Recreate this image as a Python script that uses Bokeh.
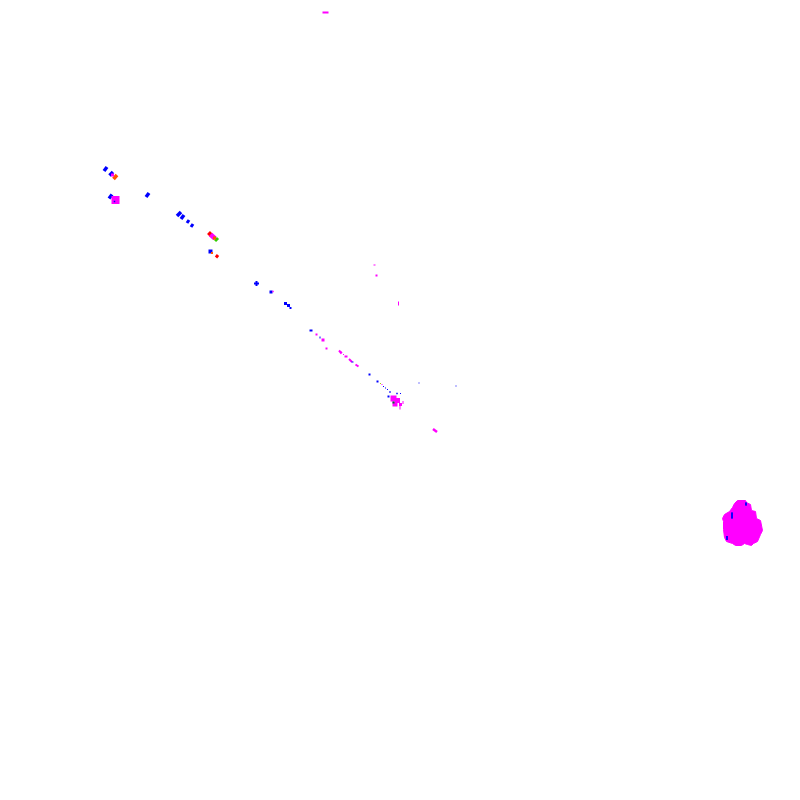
from bokeh.embed import file_html
from bokeh.models import Range1d
from bokeh.plotting import figure
from bokeh.resources import INLINE

BLUE = '#0000ff'
MAGENTA = '#ff00ff'
RED = '#ff0000'
ORANGE = '#ff5500'
GREEN = '#33cc00'
LIME = '#aacc00'
DARK = '#006633'

# short slanted strokes
dash_x0 = [103.5, 109.0, 113.0, 108.5, 145.5, 176.5, 180.5, 186.5, 190.5, 214.5, 215.5,
           338.5, 340.0, 348.5, 355.0, 432.5, 208.0, 210.0]
dash_y0 = [170.5, 175.0, 178.5, 198.0, 196.5, 215.5, 218.5, 222.5, 226.5, 240.5, 257.0,
           350.0, 351.0, 358.5, 364.0, 428.5, 232.0, 234.0]
dash_x1 = [106.5, 112.5, 116.5, 111.5, 148.5, 180.5, 183.5, 188.5, 192.5, 217.5, 217.5,
           341.0, 341.5, 351.5, 358.0, 436.5, 211.0, 214.5]
dash_y1 = [166.5, 171.5, 174.5, 194.0, 192.5, 211.5, 214.5, 219.5, 223.5, 237.5, 254.5,
           353.0, 352.5, 361.5, 366.0, 431.5, 235.0, 238.0]
dash_color = [BLUE, BLUE, ORANGE, BLUE, BLUE, BLUE, BLUE, BLUE, BLUE, GREEN, RED,
              MAGENTA, MAGENTA, MAGENTA, MAGENTA, MAGENTA, RED, MAGENTA]
dash_width = [3.5, 3.5, 3.5, 3.5, 3.5, 3.5, 3.5, 3, 3, 3, 3, 2, 1.5, 2, 2, 2.5, 4, 5]

# little blocks
dot_x = [112.0, 115.0, 114.0, 214.0, 210.0, 211.5, 256.0, 270.5, 272.5,
         285.0, 288.0, 290.0, 310.5, 316.0, 319.5, 322.5, 326.0, 374.0, 376.0, 398.0,
         343.0, 345.5, 352.0, 369.0, 377.0, 380.0, 381.5, 383.0, 385.0, 387.0, 389.5,
         418.5, 455.5, 388.0, 396.5,
         400.0, 393.0, 397.0, 394.5, 400.0, 393.0, 399.5, 402.5, 325.0, 731.5, 745.5,
         726.5, 256.0]
dot_y = [174.5, 199.5, 201.0, 237.5, 251.0, 252.5, 283.0, 291.5, 291.0,
         303.0, 305.0, 307.5, 330.0, 334.0, 337.0, 339.5, 348.0, 264.5, 275.0, 303.0,
         354.0, 356.0, 361.5, 374.0, 381.0, 383.0, 384.0, 386.0, 387.5, 389.0, 391.5,
         382.5, 385.5, 396.0, 393.0,
         393.0, 398.0, 400.0, 403.5, 404.0, 402.0, 407.0, 402.0, 12.0, 515.0, 503.5,
         537.5, 283.0]
dot_w = [3, 8, 1.5, 3, 4, 2, 5, 3, 1.5, 3, 3, 2, 3, 2, 1, 3, 2, 2, 2, 1,
         1, 3, 2, 2, 2, 1, 1, 1, 1, 1, 1.5, 1, 1, 2, 1.5,
         1, 6, 5, 5, 3, 2, 1, 1, 6, 1.5, 1.5, 1.5, 2]
dot_h = [3, 8, 1.5, 3, 4, 2, 2, 3, 1.5, 3, 3, 2, 2, 2, 2, 3, 2, 1, 2, 4,
         1, 2, 1, 2, 2, 1, 1, 1, 1, 1, 1.5, 1, 1, 2, 1.5,
         1, 6, 5, 5, 3, 2, 4, 3, 2, 6, 3, 4, 5]
dot_color = [MAGENTA, MAGENTA, BLUE, ORANGE, BLUE, ORANGE, BLUE, BLUE, MAGENTA,
             BLUE, BLUE, BLUE, BLUE, MAGENTA, BLUE, MAGENTA, MAGENTA, MAGENTA, MAGENTA, MAGENTA,
             MAGENTA, MAGENTA, BLUE, BLUE, BLUE, LIME, MAGENTA, BLUE, BLUE, BLUE, BLUE,
             BLUE, BLUE, BLUE, BLUE,
             BLUE, MAGENTA, MAGENTA, MAGENTA, MAGENTA, DARK, MAGENTA, MAGENTA, MAGENTA, BLUE, BLUE,
             BLUE, BLUE]

# the large patch on the right
blob_x = [737, 745, 746, 750, 751, 755, 756, 760, 762, 760, 757, 753, 751, 747, 744, 741,
          735, 732, 726, 724, 723, 723, 722, 724, 729, 732, 734]
blob_y = [500, 500, 502, 504, 510, 511, 518, 520, 530, 534, 541, 543, 545, 544, 543, 545,
          545, 543, 541, 537, 529, 521, 518, 514, 511, 507, 503]

p = figure(width=784, height=784, output_backend="svg", toolbar_location=None,
           x_range=Range1d(0, 784), y_range=Range1d(784, 0), min_border=0)
p.axis.visible = False
p.grid.visible = False
p.outline_line_color = None

p.patch(blob_x, blob_y, fill_color=MAGENTA, line_color=MAGENTA, line_width=1)
p.segment(dash_x0, dash_y0, dash_x1, dash_y1, color=dash_color, line_width=dash_width)
p.rect(dot_x, dot_y, width=dot_w, height=dot_h, fill_color=dot_color, line_color=None)
# blue accents drawn over the patch
p.rect(dot_x[-4:-1], dot_y[-4:-1], width=dot_w[-4:-1], height=dot_h[-4:-1],
       fill_color=BLUE, line_color=None)

open("out.html", "w").write(file_html(p, INLINE))
